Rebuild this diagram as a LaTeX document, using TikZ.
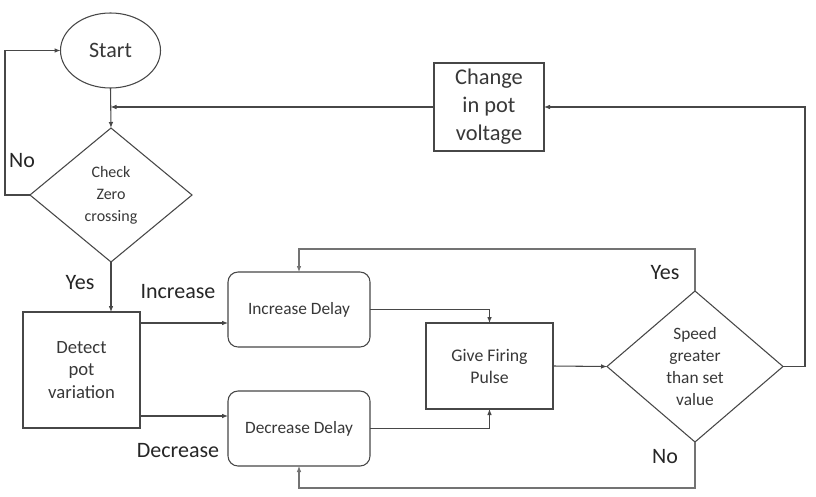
\documentclass[tikz,border=0pt]{standalone}
\usepackage{fontspec}
\setmainfont{Carlito}
\usetikzlibrary{shapes.geometric,arrows.meta,calc}
\begin{document}
\begin{tikzpicture}[x=0.75pt,y=-0.75pt,
  line width=0.8pt,
  every node/.style={outer sep=0pt,inner sep=0pt,text=black!78,align=center},
  boxA/.style={draw=black!72,rectangle},
  rbox/.style={draw=black!72,rectangle,rounded corners=7.5pt,minimum width=106.5pt,minimum height=56.25pt,font=\fontsize{13}{16}\selectfont},
  dia/.style={draw=black!72,diamond,aspect=1},
  lab/.style={font=\fontsize{16.5}{19}\selectfont,text=black!85},
  conn/.style={draw=black!72,-{Latex[length=4.5pt,width=3.5pt]}},
  connl/.style={draw=black!55,-{Latex[length=4.5pt,width=3.5pt]}}]
\useasboundingbox (0,0) rectangle (816,496);
\fill[white] (0,0) rectangle (816,496);

\node[draw=black!72,ellipse,minimum width=75pt,minimum height=56.25pt,font=\fontsize{16.5}{19}\selectfont] (start) at (110.5,50.5) {Start};
\node[dia,minimum width=121.5pt,minimum height=100.5pt,font=\fontsize{12}{16.5}\selectfont] (check) at (111,195) {Check\\Zero\\crossing};
\node[boxA,minimum width=87.75pt,minimum height=87pt,font=\fontsize{14}{17}\selectfont] (detect) at (81.5,370) {Detect\\pot\\variation};
\node[rbox] (inc) at (299,309.5) {Increase Delay};
\node[rbox] (dec) at (299,428.5) {Decrease Delay};
\node[boxA,minimum width=95.25pt,minimum height=64.5pt,font=\fontsize{13.3}{16.5}\selectfont] (fire) at (489.5,366) {Give Firing\\Pulse};
\node[dia,minimum width=132pt,minimum height=113.25pt,font=\fontsize{13}{16.3}\selectfont] (speed) at (695,366.5) {Speed\\greater\\than set\\value};
\node[boxA,minimum width=82.5pt,minimum height=66pt,font=\fontsize{16.8}{21}\selectfont] (change) at (489,107) {Change\\in pot\\voltage};

% labels
\node[lab] (lno1) at (22,161) {No};
\node[lab] (lyes1) at (80,283) {Yes};
\node[lab] (linc) at (178,292) {Increase};
\node[lab] (ldec) at (178,451) {Decrease};
\node[lab] (lyes2) at (665,273) {Yes};
\node[lab] (lno2) at (665,457) {No};

% connectors
\coordinate (j) at (start.south |- change.west);
\draw[conn] (start.south) -- (check.north);
\draw[conn] (change.west) -- (j);
\draw[conn] (check.west) -- ++(-25,0) |- (start.west);
\draw[conn] (check.south) -- (check.south |- detect.north);
\coordinate (d1) at ($(detect.north east)+(0,11)$);
\coordinate (d2) at ($(detect.south east)+(0,-12)$);
\draw[conn] (d1) -- (d1 -| inc.west);
\draw[conn] (d2) -- (d2 -| dec.west);
\draw[conn] (inc.east) -| (fire.north);
\draw[conn] (dec.east) -| (fire.south);
\draw[conn] (fire.east) -- (speed.west);
\draw[connl] (speed.north) -- ++(0,-42) -| (inc.north);
\draw[connl] (speed.south) -- ++(0,46) -| (dec.south);
\draw[conn] (speed.east) -- ++(22,0) |- (change.east);
\end{tikzpicture}
\end{document}
